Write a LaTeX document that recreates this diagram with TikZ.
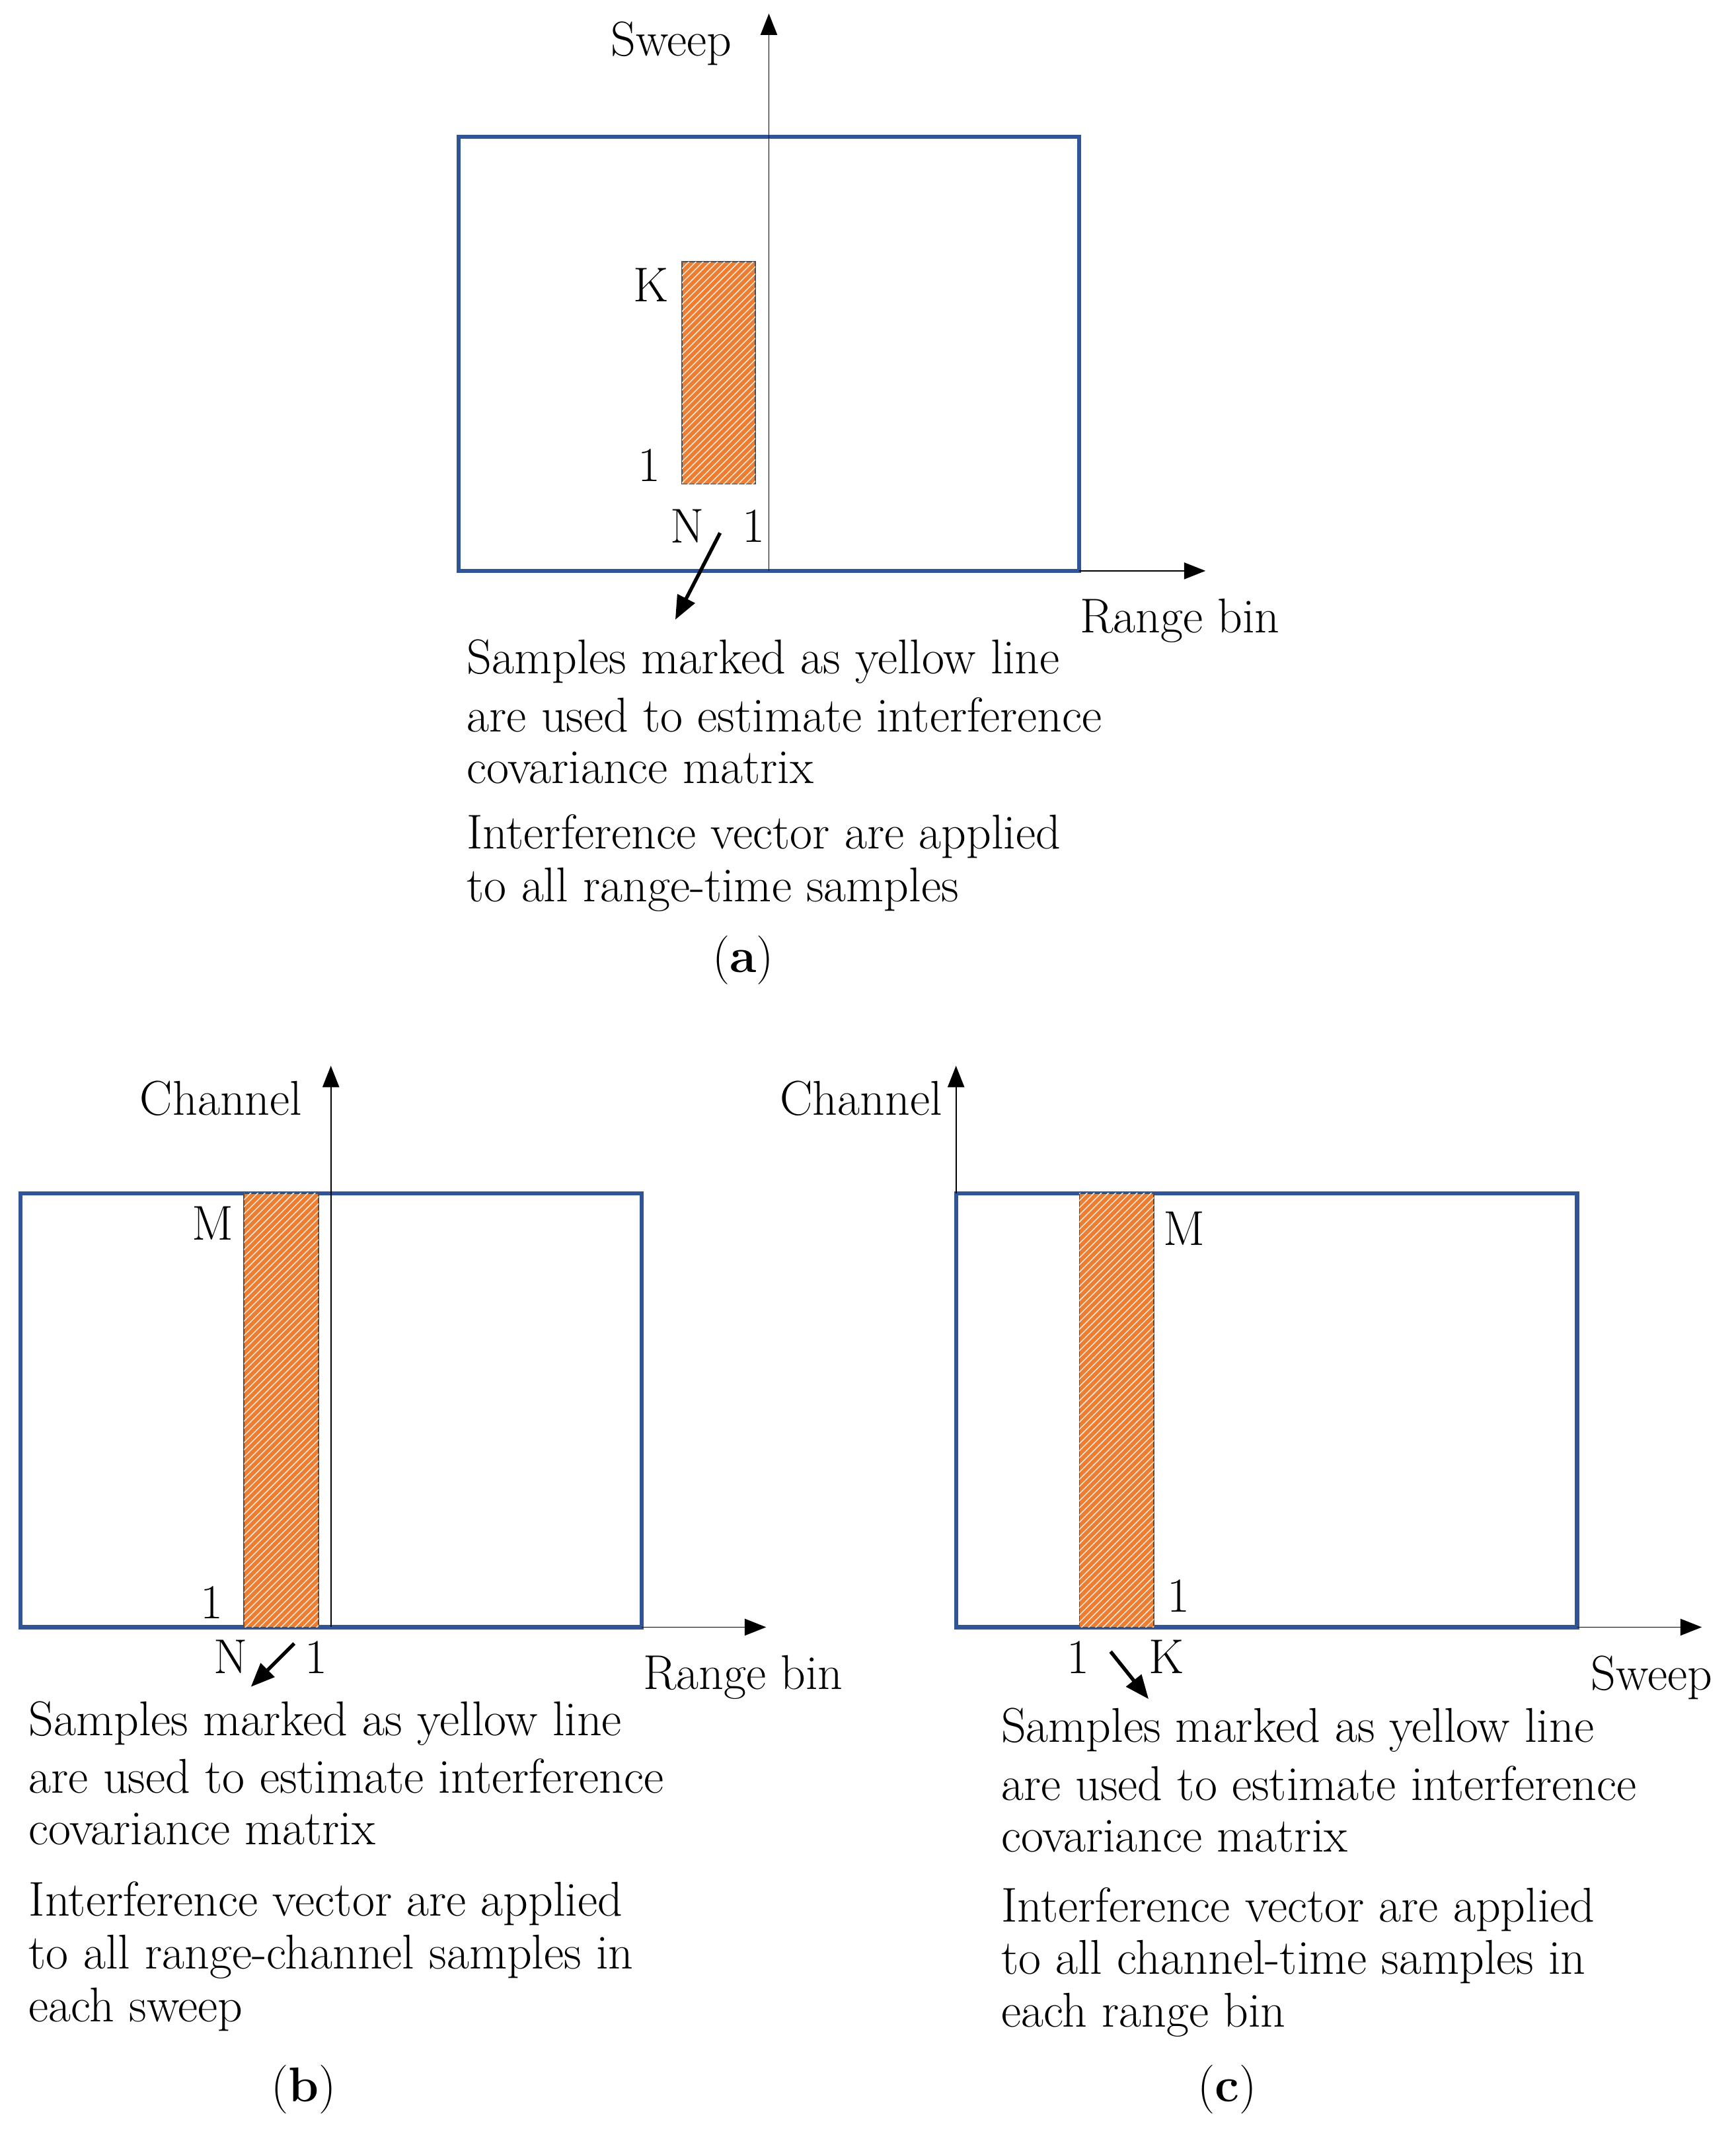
\documentclass[tikz,border=0pt]{standalone}
\usetikzlibrary{patterns,arrows.meta}
\definecolor{bx}{RGB}{47,85,151}
\definecolor{og}{RGB}{237,125,49}
\begin{document}
\begin{tikzpicture}[x=0.02cm,y=-0.02cm,
  frame/.style={draw=bx,line width=1.7pt},
  hatch/.style={fill=og,draw=black!70,line width=0.5pt,postaction={pattern=north east lines,pattern color=white!85!og}},
  ax/.style={line width=0.5pt,-{Triangle[length=9pt,width=7pt]}},
  ptr/.style={line width=1.5pt,-{Triangle[length=10pt,width=8pt]}},
  lb/.style={font=\fontsize{20.5}{24}\selectfont,inner sep=0pt},
  tx/.style={font=\fontsize{20.5}{24}\selectfont,inner sep=0pt,anchor=west}]
\useasboundingbox (0,0) rectangle (1280,1576);
% (a)
\draw[frame] (338,101) rectangle (796,421);
\draw[hatch] (503,193) rectangle (557,357);
\coordinate (a0) at (567,421); \coordinate (aT) at (567,10);
\draw[ax] (a0) -- (aT);
\coordinate (a1) at (796,421); \coordinate (a2) at (889,421);
\draw[ax] (a1) -- (a2);
\node[lb] (as) at (495,32) {Sweep};
\node[lb] (ar) at (870,458) {Range bin};
\node[lb] (aK) at (480,210) {K};
\node[lb] (a1l) at (479,343) {1};
\node[lb] (aN) at (507,388) {N};
\node[lb] (a1r) at (556,388) {1};
\coordinate (ap1) at (531,393); \coordinate (ap2) at (498,457);
\draw[ptr] (ap1) -- (ap2);
\node[tx] (at1) at (344,488) {Samples marked as yellow line};
\node[tx] (at2) at (344,527) {are used to estimate interference};
\node[tx] (at3) at (344,566) {covariance matrix};
\node[tx] (at4) at (344,617) {Interference vector are applied};
\node[tx] (at5) at (344,656) {to all range-time samples};
\node[lb] (acap) at (548,708) {(\textbf{a})};
% (b)
\draw[frame] (15,880) rectangle (473,1200);
\draw[hatch] (180,880) rectangle (235,1200);
\coordinate (b0) at (244,1200); \coordinate (bT) at (244,786);
\draw[ax] (b0) -- (bT);
\coordinate (b1) at (473,1200); \coordinate (b2) at (565,1200);
\draw[ax] (b1) -- (b2);
\node[lb] (bc) at (163,810) {Channel};
\node[lb] (br) at (548,1237) {Range bin};
\node[lb] (bM) at (157,902) {M};
\node[lb] (b1l) at (156,1182) {1};
\node[lb] (bN) at (170,1222) {N};
\node[lb] (b1r) at (233,1222) {1};
\coordinate (bp1) at (217,1212); \coordinate (bp2) at (185,1244);
\draw[ptr] (bp1) -- (bp2);
\node[tx] (bt1) at (21,1271) {Samples marked as yellow line};
\node[tx] (bt2) at (21,1310) {are used to estimate interference};
\node[tx] (bt3) at (21,1349) {covariance matrix};
\node[tx] (bt4) at (21,1404) {Interference vector are applied};
\node[tx] (bt5) at (21,1443) {to all range-channel samples in};
\node[tx] (bt6) at (21,1482) {each sweep};
\node[lb] (bcap) at (224,1541) {(\textbf{b})};
% (c)
\draw[frame] (705,880) rectangle (1163,1200);
\draw[hatch] (796,880) rectangle (851,1200);
\coordinate (c0) at (705,880); \coordinate (cT) at (705,786);
\draw[ax] (c0) -- (cT);
\coordinate (c1) at (1163,1200); \coordinate (c2) at (1255,1200);
\draw[ax] (c1) -- (c2);
\node[lb] (cc) at (635,810) {Channel};
\node[lb] (cs) at (1218,1237) {Sweep};
\node[lb] (cM) at (873,906) {M};
\node[lb] (c1r) at (869,1177) {1};
\node[lb] (c1l) at (795,1222) {1};
\node[lb] (cK) at (860,1222) {K};
\coordinate (cp1) at (819,1218); \coordinate (cp2) at (847,1253);
\draw[ptr] (cp1) -- (cp2);
\node[tx] (ct1) at (738,1276) {Samples marked as yellow line};
\node[tx] (ct2) at (738,1315) {are used to estimate interference};
\node[tx] (ct3) at (738,1354) {covariance matrix};
\node[tx] (ct4) at (738,1408) {Interference vector are applied};
\node[tx] (ct5) at (738,1447) {to all channel-time samples in};
\node[tx] (ct6) at (738,1486) {each range bin};
\node[lb] (ccap) at (905,1541) {(\textbf{c})};
\end{tikzpicture}
\end{document}
